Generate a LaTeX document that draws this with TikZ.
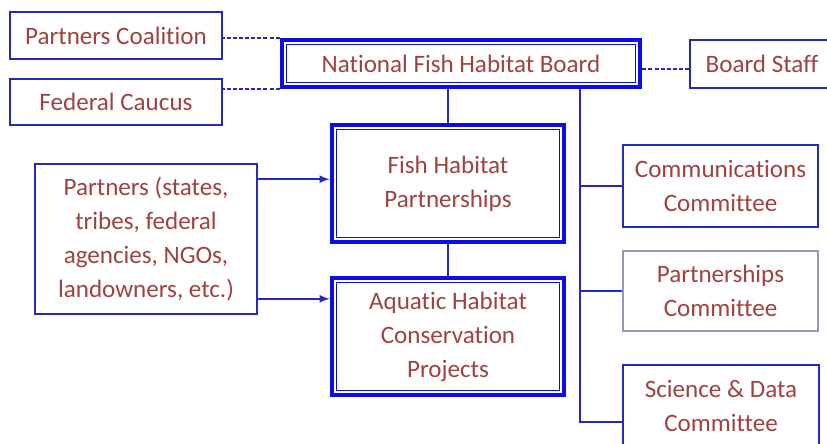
\documentclass[tikz,border=0pt]{standalone}
\usepackage{fontspec}
\setmainfont{Carlito}[Ligatures=NoCommon]
\definecolor{boxtext}{RGB}{160,66,66}
\definecolor{boxline}{RGB}{40,40,185}
\definecolor{boardline}{RGB}{12,12,228}
\definecolor{paleline}{RGB}{150,150,185}
\begin{document}
\begin{tikzpicture}[x=0.75pt,y=-0.75pt,
    unit/.style={draw=boxline,line width=1.2pt,fill=white,text=boxtext,
      align=center,font=\fontsize{18.8}{25.5}\selectfont,inner sep=0pt},
    leadbox/.style={unit,draw=boardline,line width=3.4pt,
      path picture={\draw[boardline,line width=0.8pt]
        ([shift={(3.2pt,-3.2pt)}]path picture bounding box.north west) rectangle
        ([shift={(-3.2pt,3.2pt)}]path picture bounding box.south east);}},
    link/.style={draw=boxline,line width=1.2pt},
    tie/.style={draw=boxline,line width=1.2pt,dash pattern=on 3pt off 1.6pt},
    feed/.style={draw=boxline,line width=1.6pt,-latex}]
  \useasboundingbox (0,0) rectangle (827,443); \clip (0,0) rectangle (827,443);
  \node[unit,minimum width=159pt,minimum height=35.25pt] (coalition) at (116,35.5) {Partners Coalition};
  \node[unit,minimum width=159pt,minimum height=34.5pt] (caucus) at (116,102) {Federal Caucus};
  \node[leadbox,minimum width=268.5pt,minimum height=35.25pt] (board) at (461,63.5) {National Fish Habitat Board};
  \node[unit,minimum width=108pt,minimum height=36pt] (staff) at (762,64) {Board Staff};
  \node[leadbox,minimum width=174pt,minimum height=87.75pt] (fhp) at (448,183.5) {Fish Habitat\\Partnerships};
  \node[leadbox,minimum width=174pt,minimum height=87.75pt] (ahcp) at (448,336.5) {Aquatic Habitat\\Conservation\\Projects};
  \node[unit,minimum width=166.5pt,minimum height=112.5pt] (partners) at (146,239)
    {Partners (states,\\tribes, federal\\agencies, NGOs,\\landowners, etc.)};
  \node[unit,minimum width=146.25pt,minimum height=61.5pt] (comm) at (720.5,186) {Communications\\Committee};
  \node[unit,draw=paleline,minimum width=146.25pt,minimum height=60pt] (pcomm) at (720.5,291) {Partnerships\\Committee};
  \node[unit,minimum width=147pt,minimum height=61.5pt] (sci) at (721,406) {Science \& Data\\Committee};
  \coordinate (bus) at (580,89);
  \draw[tie] (board.north west) -- (board.north west -| coalition.east);
  \draw[tie] (board.south west) -- (board.south west -| caucus.east);
  \draw[tie] ([yshift=-4pt]board.east) -- ([yshift=-4pt]board.east -| staff.west);
  \draw[link] (fhp.north |- board.south) -- (fhp.north); \draw[link] (fhp.south) -- (ahcp.north);
  \draw[link] (bus) |- ([yshift=-12pt]sci.west); \draw[link] (bus |- comm.west) -- (comm.west);
  \draw[link] (bus |- pcomm.west) -- (pcomm.west);
  \draw[feed] ([yshift=-12pt]partners.north east) -- ([yshift=-12pt]partners.north east -| fhp.west);
  \draw[feed] ([yshift=12pt]partners.south east) -- ([yshift=12pt]partners.south east -| ahcp.west);
\end{tikzpicture}
\end{document}
